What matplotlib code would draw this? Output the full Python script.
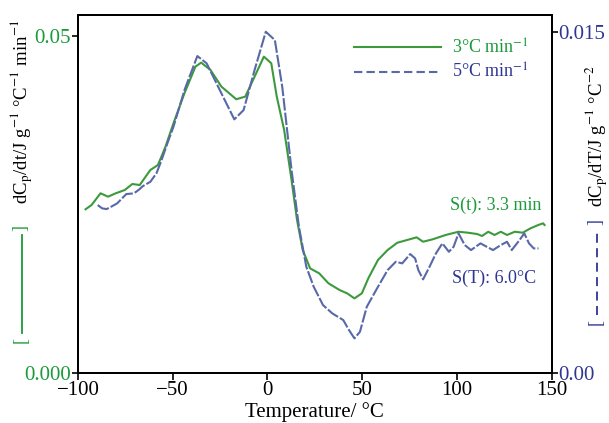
import numpy as np
import matplotlib
matplotlib.use('Agg')
import matplotlib.pyplot as plt
from matplotlib.lines import Line2D

plt.rcParams['font.family'] = ['Liberation Serif', 'DejaVu Serif']
plt.rcParams['mathtext.fontset'] = 'stix'

# 3 C/min curve, dCp/dt (left axis)
temp_3 = [-96.0, -92.8, -88.1, -84.1, -80.1, -75.3, -71.3, -67.4, -61.8, -57.8,
          -53.8, -49.6, -43.8, -38.0, -35.0, -30.1, -24.3, -16.5, -11.7, -6.8,
          -1.9, 2.0, 4.9, 8.8, 12.7, 15.6, 18.6, 22.5, 27.3, 32.2,
          38.1, 42.0, 45.9, 49.8, 53.2, 58.3, 63.4, 68.5, 73.6, 78.7,
          82.1, 87.2, 94.0, 100.8, 105.7, 110.7, 113.2, 116.5, 119.8, 123.1,
          126.4, 130.5, 134.7, 138.8, 142.9, 145.4, 146.2]
dcp_dt = [0.02429, 0.02493, 0.02666, 0.02616, 0.02666, 0.02715, 0.02804, 0.02789, 0.03012, 0.03086,
          0.03358, 0.03705, 0.04150, 0.04545, 0.04604, 0.04496, 0.04248, 0.04061, 0.04100, 0.04396,
          0.04693, 0.04595, 0.04100, 0.03605, 0.02864, 0.02270, 0.01825, 0.01553, 0.01479, 0.01331,
          0.01231, 0.01183, 0.01108, 0.01183, 0.01405, 0.01677, 0.01825, 0.01933, 0.01973, 0.02013,
          0.01948, 0.01984, 0.02048, 0.02096, 0.02082, 0.02062, 0.02033, 0.02096, 0.02048, 0.02096,
          0.02048, 0.02096, 0.02082, 0.02147, 0.02196, 0.02221, 0.02196]

# 5 C/min curve, dCp/dT (right axis)
temp_5 = [-89.6, -87.2, -84.9, -82.5, -79.3, -74.5, -70.5, -68.1, -65.7, -61.8,
          -58.6, -56.2, -52.2, -49.6, -43.8, -37.0, -32.1, -24.3, -17.5, -12.6,
          -6.8, -0.9, 3.9, 7.8, 12.7, 16.6, 20.5, 24.4, 29.3, 34.2,
          40.0, 43.0, 45.9, 48.8, 52.4, 58.3, 63.4, 67.7, 71.1, 75.3,
          77.9, 79.6, 82.1, 85.5, 88.9, 92.3, 95.7, 98.2, 100.8, 104.1,
          107.4, 112.4, 115.7, 119.0, 123.1, 126.4, 128.9, 133.0, 135.5, 138.0,
          140.5, 143.0]
dcp_dT = [0.007390, 0.007245, 0.007214, 0.007316, 0.007465, 0.007874, 0.007905, 0.008050, 0.008226, 0.008415,
          0.008785, 0.009295, 0.010250, 0.010835, 0.012449, 0.013945, 0.013624, 0.012304, 0.011160, 0.011569,
          0.013329, 0.015014, 0.014649, 0.012594, 0.008930, 0.006436, 0.004676, 0.003796, 0.002991, 0.002626,
          0.002331, 0.001892, 0.001526, 0.001817, 0.002917, 0.003796, 0.004531, 0.004896, 0.004826, 0.005235,
          0.005046, 0.004531, 0.004122, 0.004676, 0.005266, 0.005706, 0.005336, 0.005556, 0.006145, 0.005631,
          0.005411, 0.005706, 0.005556, 0.005411, 0.005631, 0.005776, 0.005411, 0.005851, 0.006145, 0.005706,
          0.005485, 0.005485]

green = '#3c9a3c'
green_txt = '#1a9a3a'
blue = '#5868a8'
navy = '#2e3592'

fig = plt.figure(figsize=(6.09, 4.23), dpi=100)
ax = fig.add_axes([0.128, 0.118, 0.778, 0.8465])
ax2 = ax.twinx()

l1, = ax.plot(temp_3, dcp_dt, color=green, lw=1.5, solid_joinstyle='round')
l2, = ax2.plot(temp_5, dcp_dT, color=blue, lw=1.5, dashes=(6, 1.0), dash_joinstyle='round')

ax.set_xlim(-100, 150)
ax.set_ylim(0, 0.0531)
ax2.set_ylim(0, 0.01575)

ax.set_xticks([-100, -50, 0, 50, 100, 150])
ax.set_yticks([0, 0.05])
ax.set_yticklabels(['0.000', '0.05'])
ax2.set_yticks([0, 0.015])
ax2.set_yticklabels(['0.00', '0.015'])

ax.tick_params(axis='x', labelsize=15, direction='out', length=5, width=1.2, pad=1)
ax.tick_params(axis='y', labelsize=15, colors='black', labelcolor=green_txt, direction='out',
               length=4, width=1.2, pad=1)
ax2.tick_params(axis='y', labelsize=15, labelcolor=navy, colors='black', direction='out',
                length=4, width=1.2, pad=1)
for a in (ax, ax2):
    for s in a.spines.values():
        s.set_linewidth(1.4)

ax.set_xlabel('Temperature/ °C', fontsize=15, labelpad=1)

leg = ax2.legend([l1, l2], ['3°C min$^{-1}$', '5°C min$^{-1}$'], loc='upper right',
                 bbox_to_anchor=(0.985, 0.98), frameon=False, fontsize=13,
                 handlelength=4.8, labelspacing=0.3, handletextpad=0.6)
leg.get_texts()[0].set_color(green_txt)
leg.get_texts()[1].set_color(navy)
leg.get_lines()[1].set_dashes((4, 2))

ax.text(0.979, 0.469, 'S(t): 3.3 min', transform=ax.transAxes, ha='right', va='center',
        fontsize=13, color=green_txt)
ax.text(0.968, 0.265, 'S(T): 6.0°C', transform=ax.transAxes, ha='right', va='center',
        fontsize=13, color=navy)

# y axis labels with line-style keys
fig.text(0.035, 1 - 112 / 423, 'dC$_\\mathrm{p}$/dt/J g$^{-1}$ °C$^{-1}$ min$^{-1}$',
         rotation=90, ha='center', va='center', fontsize=13.5)
fig.text(0.979, 1 - 136 / 423, 'dC$_\\mathrm{p}$/dT/J g$^{-1}$ °C$^{-2}$',
         rotation=90, ha='center', va='center', fontsize=13.5)

# bracket keys: "[" at bottom, "]" at top, line between
def key(xc, y_lo, y_hi, color, dashed):
    fig.text(xc, 1 - y_lo / 423, '[', rotation=90, ha='center', va='center', fontsize=13, color=color)
    fig.text(xc, 1 - y_hi / 423, ']', rotation=90, ha='center', va='center', fontsize=13, color=color)
    ln = Line2D([xc + 0.001, xc + 0.001], [1 - (y_lo - 7) / 423, 1 - (y_hi + 7) / 423],
                transform=fig.transFigure, color=color, lw=1.3)
    if dashed:
        ln.set_dashes((5, 3))
    fig.add_artist(ln)

key(0.035, 340, 228, green_txt, False)
key(0.979, 322, 222, navy, True)

fig.savefig('out.png', dpi=100)
